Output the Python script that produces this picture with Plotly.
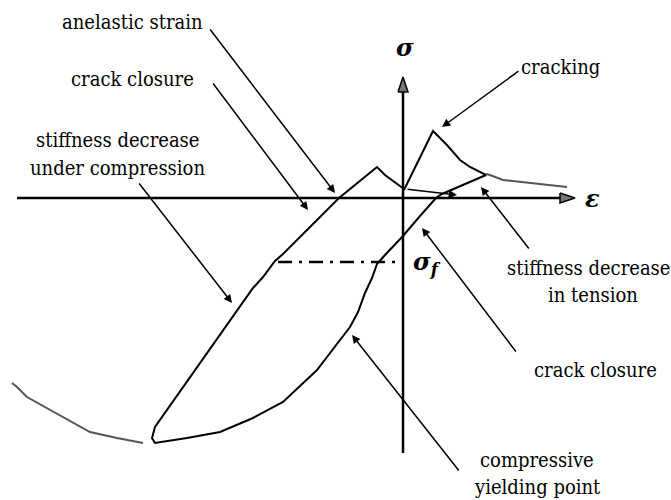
import plotly.graph_objects as go

# strain / stress coordinates of the sketched loop (origin at the axes crossing)
loop_eps = [1, 30, 44, 57, 67, 83, 39, 33, 17, 0, -18, -26, -31, -38, -45, -53, -63, -86,
            -120, -150, -183, -216, -248, -251, -248, -236, -203, -170, -150, -140, -132,
            -128, -120, -64, -26, -18, 1]
loop_sig = [8, 67, 53, 38, 31, 23, 4, 0, -18, -38, -57, -66, -80, -95, -114, -129, -142, -172,
            -204, -220, -234, -240, -245, -240, -229, -212, -165, -119, -90, -79, -68,
            -63, -56, 0, 31, 23, 9]

tension_tail_eps = [83, 87, 100, 127, 164]
tension_tail_sig = [24, 23, 18, 15, 11]

compression_tail_eps = [-391, -386, -376, -343, -313, -286, -260]
compression_tail_sig = [-185, -189, -199, -217, -234, -240, -245]

sigma_f = -64
sigma_f_eps = [-125, -8]

# pointer lines: (label tail eps, sig) -> (head eps, sig)
pointers = [
    (-194, 170, -68, 5),
    (-191, 116, -95, -12),
    (-265, 16, -171, -105),
    (117, 128, 39, 71),
    (127, -52, 78, 11),
    (114, -155, 19, -30),
    (57, -274, -51, -137),
    (3, 9, 54, 3),
]

labels = [
    ("anelastic strain", -198, 176, "right"),
    ("crack closure", -271, 119, "center"),
    ("stiffness decrease", -286, 58, "center"),
    ("under compression", -286, 30, "center"),
    ("cracking", 157, 131, "center"),
    ("stiffness decrease", 185, -70, "center"),
    ("in tension", 190, -97, "center"),
    ("crack closure", 192, -172, "center"),
    ("compressive", 134, -262, "center"),
    ("yielding point", 134, -289, "center"),
]

FONT = "DejaVu Serif Condensed, DejaVu Serif"

fig = go.Figure()

# axes
fig.add_trace(go.Scatter(x=[-386, 160], y=[0, 0], mode="lines",
                         line=dict(color="black", width=2.5), hoverinfo="skip"))
fig.add_trace(go.Scatter(x=[0, 0], y=[-255, 107], mode="lines",
                         line=dict(color="black", width=2.5), hoverinfo="skip"))
fig.add_trace(go.Scatter(x=[157, 172, 157, 157], y=[5, 0, -5, 5], mode="lines", fill="toself",
                         fillcolor="#777777", line=dict(color="black", width=1.5), hoverinfo="skip"))
fig.add_trace(go.Scatter(x=[-5, 0, 5, -5], y=[106, 121, 106, 106], mode="lines", fill="toself",
                         fillcolor="#777777", line=dict(color="black", width=1.5), hoverinfo="skip"))

# hysteresis loop
fig.add_trace(go.Scatter(x=loop_eps, y=loop_sig, mode="lines",
                         line=dict(color="black", width=2), hoverinfo="skip"))
fig.add_trace(go.Scatter(x=tension_tail_eps, y=tension_tail_sig, mode="lines",
                         line=dict(color="#555555", width=2), hoverinfo="skip"))
fig.add_trace(go.Scatter(x=compression_tail_eps, y=compression_tail_sig, mode="lines",
                         line=dict(color="#555555", width=2), hoverinfo="skip"))

# sigma_f level
fig.add_trace(go.Scatter(x=sigma_f_eps, y=[sigma_f, sigma_f], mode="lines",
                         line=dict(color="black", width=2.5, dash="14px,7px,3px,7px"),
                         hoverinfo="skip"))

for ax, ay, hx, hy in pointers:
    fig.add_annotation(x=hx, y=hy, ax=ax, ay=ay, xref="x", yref="y", axref="x", ayref="y",
                       text="", showarrow=True, arrowhead=2, arrowsize=1.1,
                       arrowwidth=1.5, arrowcolor="black", standoff=0)

for txt, x, y, anchor in labels:
    fig.add_annotation(x=x, y=y, text=txt, showarrow=False, xanchor=anchor, yanchor="middle",
                       font=dict(family=FONT, size=20, color="black"))

fig.add_annotation(x=2, y=151, text="<b><i>σ</i></b>", showarrow=False,
                   font=dict(family="DejaVu Serif", size=24, color="black"))
fig.add_annotation(x=189, y=0, text="<b><i>ε</i></b>", showarrow=False,
                   font=dict(family="DejaVu Serif", size=24, color="black"))
fig.add_annotation(x=24, y=-65, text="<b><i>σ<sub>f</sub></i></b>", showarrow=False,
                   font=dict(family="DejaVu Serif", size=24, color="black"))

fig.update_layout(
    width=671, height=500,
    margin=dict(l=0, r=0, t=0, b=0),
    paper_bgcolor="white", plot_bgcolor="white",
    showlegend=False,
    xaxis=dict(range=[-403, 268], visible=False, fixedrange=True),
    yaxis=dict(range=[-302, 198], visible=False, fixedrange=True),
)

fig.write_html("out.html", config={"displayModeBar": False},
               post_script="document.body.style.margin='0';")
